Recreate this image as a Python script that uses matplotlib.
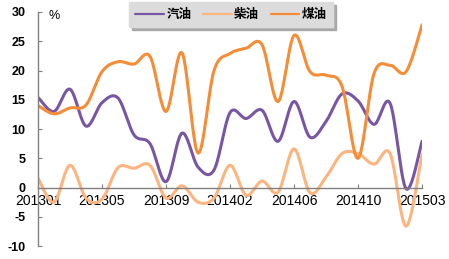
import matplotlib.pyplot as plt
import numpy as np

# monthly series, Jan is merged into Feb for 2014 and 2015
months = ['201301', '201302', '201303', '201304', '201305', '201306', '201307',
          '201308', '201309', '201310', '201311', '201312', '201402', '201403',
          '201404', '201405', '201406', '201407', '201408', '201409', '201410',
          '201411', '201412', '201502', '201503']

gasoline = [15.4, 13.0, 16.8, 10.5, 14.5, 15.3, 9.0, 7.5, 1.0, 9.3, 3.5, 3.0,
            12.8, 11.8, 13.2, 7.9, 14.7, 8.6, 11.3, 16.0, 14.8, 10.8, 14.4,
            -0.2, 7.9]
diesel = [1.6, -2.5, 3.8, -1.8, -2.0, 3.4, 3.3, 3.8, -1.8, 0.3, -2.5, -1.8,
          3.8, -1.3, 1.1, -0.8, 6.6, -0.9, 1.8, 5.8, 5.8, 4.0, 5.8, -6.6, 5.7]
kerosene = [14.0, 12.6, 13.6, 14.1, 19.8, 21.5, 21.1, 22.4, 13.0, 23.0, 5.9,
            20.0, 22.9, 23.8, 24.4, 14.7, 26.0, 19.8, 19.2, 17.3, 5.0, 19.5,
            20.9, 19.8, 27.8]

series_names = ['汽油', '柴油', '煤油']
colors = ['#7856A4', '#FDB47E', '#F68C36']
tick_every = 4


def smooth(y, n=24):
    """Excel-like smoothed line (Catmull-Rom through every point)."""
    y = np.asarray(y, dtype=float)
    x = np.arange(len(y), dtype=float)
    px = np.concatenate([[x[0]], x, [x[-1]]])
    py = np.concatenate([[y[0]], y, [y[-1]]])
    xs, ys = [], []
    t = np.linspace(0, 1, n, endpoint=False)
    for i in range(1, len(px) - 2):
        p0 = np.array([px[i], py[i]])
        p3 = np.array([px[i + 1], py[i + 1]])
        c1 = p0 + (p3 - np.array([px[i - 1], py[i - 1]])) / 6
        c2 = p3 - (np.array([px[i + 2], py[i + 2]]) - p0) / 6
        b = ((1 - t) ** 3)[:, None] * p0 + (3 * (1 - t) ** 2 * t)[:, None] * c1 \
            + (3 * (1 - t) * t ** 2)[:, None] * c2 + (t ** 3)[:, None] * p3
        xs.extend(b[:, 0])
        ys.extend(b[:, 1])
    xs.append(x[-1])
    ys.append(y[-1])
    return np.array(xs), np.array(ys)


plt.rcParams['font.family'] = ['Liberation Sans', 'Noto Sans CJK SC', 'DejaVu Sans']

fig = plt.figure(figsize=(4.49, 2.59), dpi=100, facecolor='white')
ax = fig.add_axes([0.0846, 0.050, 0.8554, 0.9037])

for vals, name, c in zip([gasoline, diesel, kerosene], series_names, colors):
    sx, sy = smooth(vals)
    ax.plot(sx, sy, color=c, lw=2.2, label=name, solid_capstyle='round')

ax.set_xlim(0, len(months) - 1)
ax.set_ylim(-10, 30)
ax.set_yticks(np.arange(-10, 31, 5))
ax.set_yticklabels([str(v) for v in range(-10, 31, 5)], fontweight='bold', fontsize=9)
xt = np.arange(0, len(months), tick_every)
ax.set_xticks(xt)
ax.set_xticklabels([months[i] for i in xt], fontweight='bold', fontsize=8.5)

ax.spines['top'].set_visible(False)
ax.spines['right'].set_visible(False)
ax.spines['bottom'].set_position(('data', 0))
for s in ('left', 'bottom'):
    ax.spines[s].set_color('#808080')
    ax.spines[s].set_linewidth(1.0)
ax.tick_params(axis='both', direction='in', length=3, color='#808080')
ax.tick_params(axis='y', pad=9)
ax.tick_params(axis='x', pad=5)

fig.text(0.107, 0.94, '%', fontsize=9, ha='left', va='center')

leg = ax.legend(loc='upper left', bbox_to_anchor=(0.287, 0.893, 0.455, 0.1),
                bbox_transform=fig.transFigure, mode='expand', ncol=3,
                frameon=True, fancybox=False, shadow={'color': '#9a9a9a', 'alpha': 0.8},
                facecolor='#DCDCDC', edgecolor='#DCDCDC', framealpha=1,
                handlelength=2.3, handletextpad=0.2, columnspacing=0.8,
                borderaxespad=0, borderpad=0.5,
                prop={'family': ['Noto Sans CJK SC'], 'weight': 'bold', 'size': 9})
for h in leg.get_lines():
    h.set_linewidth(1.6)

fig.savefig('out.png', dpi=100, facecolor='white')
